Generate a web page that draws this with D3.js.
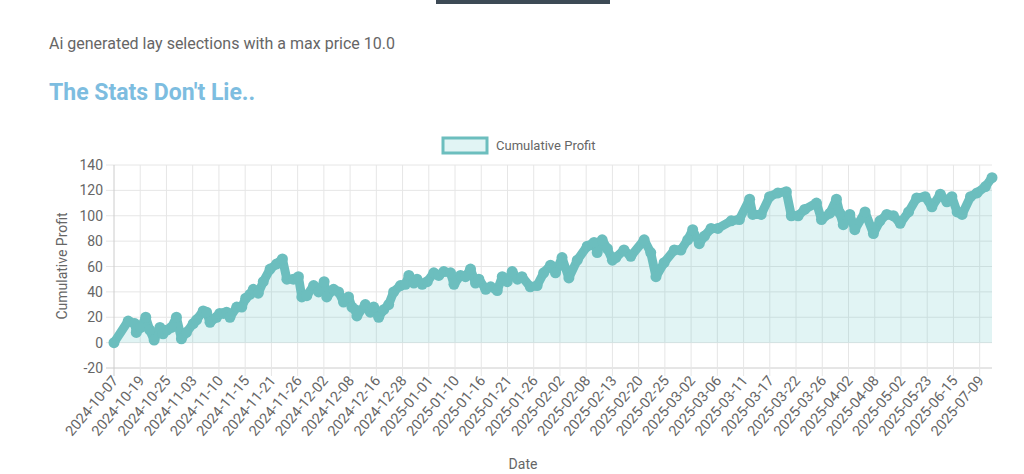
<!DOCTYPE html>
<html><head><meta charset="utf-8">
<script src="https://cdn.jsdelivr.net/npm/d3@7"></script>
<style>body{margin:0;background:#fff;font-family:Roboto,"Helvetica Neue",Arial,sans-serif}</style>
</head><body><svg id="c" width="1024" height="474"></svg>
<script>
const dateLabels=["2024-10-07","2024-10-19","2024-10-25","2024-11-03","2024-11-10","2024-11-15","2024-11-21","2024-11-26","2024-12-02","2024-12-08","2024-12-16","2024-12-28","2025-01-01","2025-01-10","2025-01-16","2025-01-21","2025-01-26","2025-02-02","2025-02-08","2025-02-13","2025-02-20","2025-02-25","2025-03-02","2025-03-06","2025-03-11","2025-03-17","2025-03-22","2025-03-26","2025-04-02","2025-04-08","2025-05-02","2025-05-23","2025-06-15","2025-07-09"];
// position along the date axis (in label units) and cumulative profit
const pointPos=[0,0.54,0.79,0.85,1.02,1.21,1.36,1.53,1.75,1.87,2.03,2.19,2.38,2.57,2.76,3.02,3.15,3.40,3.53,3.66,3.91,4.03,4.17,4.29,4.42,4.68,4.87,5.02,5.18,5.31,5.50,5.69,5.95,6.20,6.42,6.59,6.84,7.03,7.16,7.35,7.61,7.80,8.01,8.11,8.37,8.56,8.75,8.94,9.07,9.20,9.26,9.58,9.77,9.90,10.09,10.28,10.47,10.66,10.92,11.11,11.24,11.43,11.55,11.75,11.94,12.19,12.38,12.57,12.83,12.96,13.21,13.40,13.59,13.78,13.91,14.17,14.36,14.61,14.80,14.99,15.18,15.38,15.55,15.87,16.13,16.38,16.64,16.83,17.08,17.34,17.66,18.04,18.30,18.42,18.61,18.81,19.00,19.13,19.44,19.70,20.21,20.46,20.66,20.97,21.36,21.61,21.87,22.06,22.31,22.51,22.76,23.02,23.53,23.84,24.23,24.35,24.67,24.99,25.31,25.63,25.82,26.08,26.33,26.78,26.97,27.29,27.54,27.67,27.80,28.05,28.24,28.63,28.95,29.20,29.46,29.71,29.97,30.29,30.60,30.92,31.18,31.50,31.75,31.94,32.14,32.33,32.65,32.90,33.22,33.47];
const profit=[0,17,15,8,12,20,10,2,12,7,10,12,20,3,8,15,18,25,24,16,20,23,23,24,20,28,28,35,38,42,39,48,58,62,66,50,50,52,36,37,45,40,48,36,42,40,32,36,28,26,21,30,24,28,20,26,30,40,45,46,53,47,50,46,48,55,53,56,55,46,53,52,58,47,50,42,44,41,52,48,56,50,52,44,45,55,61,55,67,51,65,76,79,71,81,74,65,67,73,68,81,71,52,63,73,73,81,89,78,84,90,90,96,97,113,101,101,115,118,119,100,100,105,110,97,102,113,102,93,101,89,103,86,96,101,100,94,103,114,115,107,117,111,115,103,101,115,118,123,130];
const yTicks=[-20,0,20,40,60,80,100,120,140];

const svg=d3.select("#c");
const col="rgb(108,190,190)";
svg.append("rect").attr("x",436).attr("y",0).attr("width",174).attr("height",4).attr("fill","#3d4a55");
svg.append("text").attr("x",49).attr("y",49).attr("font-size",16).attr("fill","#666").text("Ai generated lay selections with a max price 10.0");
svg.append("text").attr("x",49).attr("y",100).attr("font-size",23).attr("font-weight","bold").attr("fill","#7dbde0").text("The Stats Don't Lie..");
svg.append("rect").attr("x",443).attr("y",138).attr("width",44).attr("height",15).attr("fill","rgba(75,192,192,0.17)").attr("stroke",col).attr("stroke-width",3);
svg.append("text").attr("x",496).attr("y",150).attr("font-size",13).attr("fill","#666").text("Cumulative Profit");

const x=d3.scaleLinear().domain([0,d3.max(pointPos)]).range([114,992]);
const y=d3.scaleLinear().domain([-20,140]).range([368,165]);
const g=svg.append("g");
g.selectAll(".hg").data(yTicks).join("line").attr("x1",106).attr("x2",992).attr("y1",d=>y(d)).attr("y2",d=>y(d)).attr("stroke",d=>d===-20?"#ccc":"#e6e6e6");
g.selectAll(".vg").data(dateLabels).join("line").attr("x1",(d,i)=>x(i)).attr("x2",(d,i)=>x(i)).attr("y1",165).attr("y2",376).attr("stroke",(d,i)=>i===0?"#ccc":"#e6e6e6");
g.selectAll(".yt").data(yTicks).join("text").attr("x",103).attr("y",d=>y(d)+5).attr("text-anchor","end").attr("font-size",14).attr("fill","#666").text(d=>d);
g.selectAll(".xt").data(dateLabels).join("text").attr("transform",(d,i)=>`translate(${x(i)+5},${381}) rotate(-50)`).attr("text-anchor","end").attr("font-size",14.5).attr("fill","#666").text(d=>d);
svg.append("text").attr("transform","translate(67,266) rotate(-90)").attr("text-anchor","middle").attr("font-size",14).attr("fill","#666").text("Cumulative Profit");
svg.append("text").attr("x",523).attr("y",469).attr("text-anchor","middle").attr("font-size",14).attr("fill","#666").text("Date");

const pts=pointPos.map((p,i)=>[p,profit[i]]);
g.append("path").datum(pts).attr("fill","rgba(75,192,192,0.17)").attr("d",d3.area().x(d=>x(d[0])).y0(y(0)).y1(d=>y(d[1])));
g.append("path").datum(pts).attr("fill","none").attr("stroke",col).attr("stroke-width",9).attr("stroke-linejoin","round").attr("stroke-linecap","round").attr("d",d3.line().x(d=>x(d[0])).y(d=>y(d[1])));
g.selectAll(".pt").data(pts).join("circle").attr("cx",d=>x(d[0])).attr("cy",d=>y(d[1])).attr("r",5.5).attr("fill",col);
</script></body></html>
